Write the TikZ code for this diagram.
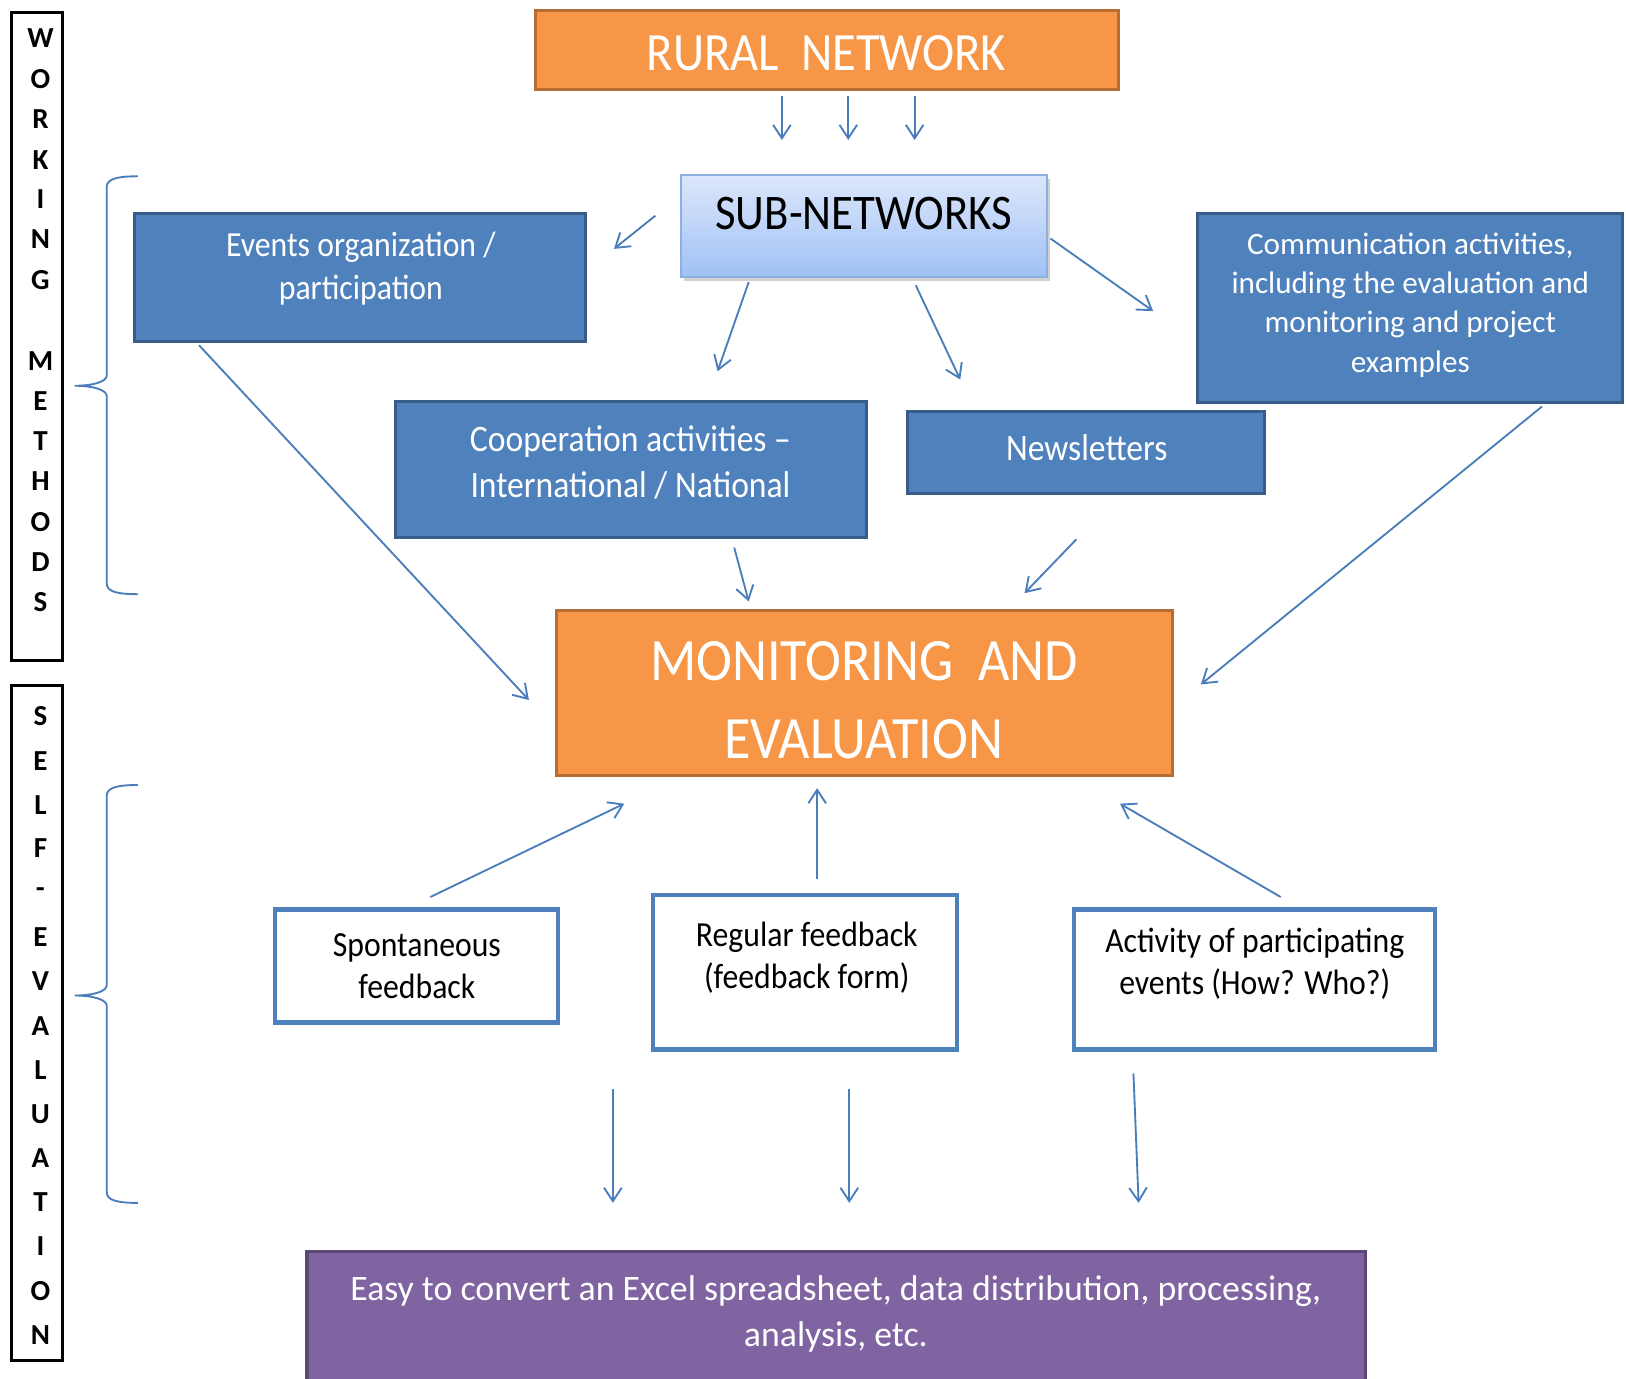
\documentclass[tikz,border=0pt]{standalone}
\usepackage{fontspec}
\setmainfont{Carlito}
\newfontfamily\calN[FakeStretch=0.9]{Carlito}
\usetikzlibrary{arrows.meta,shadows,calc}
\definecolor{org}{HTML}{F79646}
\definecolor{orgD}{HTML}{B66D31}
\definecolor{blu}{HTML}{4F81BD}
\definecolor{bluD}{HTML}{385D8A}
\definecolor{pur}{HTML}{8064A2}
\definecolor{purD}{HTML}{5C4776}
\definecolor{arrC}{HTML}{4A7EBB}
\definecolor{subT}{HTML}{DCE7FB}
\definecolor{subB}{HTML}{A0C1F5}
\definecolor{subD}{HTML}{8DB0E3}
\begin{document}
\begin{tikzpicture}[x=1pt,y=-1pt,
  orangebox/.style={draw=orgD, fill=org, line width=3pt, inner sep=0pt},
  bluebox/.style={draw=bluD, fill=blu, line width=3pt, inner sep=0pt},
  whitebox/.style={draw=blu, fill=white, line width=4pt, inner sep=0pt},
  purplebox/.style={draw=purD, fill=pur, line width=3pt, inner sep=0pt},
  subbox/.style={draw=subD, line width=2pt, top color=subT, bottom color=subB, inner sep=0pt,
     drop shadow={opacity=0.35, shadow xshift=3pt, shadow yshift=-4pt}},
  labbox/.style={draw=black, line width=2.5pt, fill=white, inner sep=0pt},
  wtxt/.style={text=white, align=center, inner sep=0pt},
  btxt/.style={text=black, align=center, inner sep=0pt},
  vl/.style={font=\bfseries\fontsize{28}{30}\selectfont, inner sep=0pt},
  arr/.style={draw=arrC, line width=1.8pt, -{Straight Barb[length=13pt,width=17pt]}},
  brace/.style={draw=arrC, line width=1.8pt}
]
\fill[white] (0,0) rectangle (1568,1329);
\useasboundingbox (0,0) rectangle (1568,1329);

% side label boxes
\node[labbox, minimum width=49pt, minimum height=625pt] (wmbox) at (35.5,324.5) {};
\node[labbox, minimum width=49pt, minimum height=651pt] (sebox) at (35.5,986.5) {};
\foreach \l/\y in {W/37,O/76,R/115,K/154,I/192,N/231,G/270,M/348,E/387,T/425,H/464,O/503,D/542,S/581}
  \node[vl] (w\y) at (39,\y) {\l};
\foreach \l/\y in {S/691,E/734,L/776,F/818,-/861,E/904,V/946,A/989,L/1032,U/1074,A/1117,T/1159,I/1202,O/1245,N/1287}
  \node[vl] (s\y) at (39,\y) {\l};

% braces
\draw[brace] (133,170) .. controls (115,170) and (103,172) .. (103,180) -- (103,362)
  .. controls (103,368) and (90,372) .. (72,372) .. controls (90,372) and (103,376) .. (103,382)
  -- (103,563) .. controls (103,571) and (115,573) .. (133,573);
\draw[brace] (133,757) .. controls (115,757) and (103,759) .. (103,767) -- (103,950)
  .. controls (103,956) and (90,960) .. (72,960) .. controls (90,960) and (103,964) .. (103,970)
  -- (103,1150) .. controls (103,1158) and (115,1160) .. (133,1160);

% boxes
\node[orangebox, minimum width=563pt, minimum height=76pt] (rural) at (797.5,48) {};
\node[wtxt, font=\calN\fontsize{52}{62}\selectfont] (ruralt) at (797,51.5) {RURAL~~NETWORK};

\node[subbox, minimum width=353pt, minimum height=98pt] (sub) at (833.5,218) {};
\node[btxt, font=\calN\fontsize{48}{58}\selectfont] (subt) at (833,206) {SUB-NETWORKS};

\node[bluebox, minimum width=435pt, minimum height=123pt] (ev) at (347.5,267.5) {};
\node[wtxt, font=\calN\fontsize{34}{42}\selectfont] (evt) at (348,259) {Events organization /\\participation};

\node[bluebox, minimum width=410pt, minimum height=182pt] (com) at (1360,297) {};
\node[wtxt, font=\fontsize{30}{38}\selectfont] (comt) at (1360,294) {Communication activities,\\including the evaluation and\\monitoring and project\\examples};

\node[bluebox, minimum width=455pt, minimum height=131pt] (coop) at (608.5,452.5) {};
\node[wtxt, font=\calN\fontsize{36}{44}\selectfont] (coopt) at (608,446) {Cooperation activities –\\International / National};

\node[bluebox, minimum width=344pt, minimum height=79pt] (news) at (1047,436.5) {};
\node[wtxt, font=\calN\fontsize{36}{44}\selectfont] (newst) at (1048,432) {Newsletters};

\node[orangebox, minimum width=594pt, minimum height=159pt] (mon) at (834,668.5) {};
\node[wtxt, font=\calN\fontsize{58}{75}\selectfont] (mont) at (833,675.5) {MONITORING~~AND\\EVALUATION};

\node[whitebox, minimum width=273pt, minimum height=109pt] (sp) at (401.5,931.5) {};
\node[btxt, font=\calN\fontsize{34}{41}\selectfont] (spt) at (402,931.5) {Spontaneous\\feedback};

\node[whitebox, minimum width=293pt, minimum height=149pt] (reg) at (776.5,937.5) {};
\node[btxt, font=\calN\fontsize{34}{41}\selectfont] (regt) at (778,923.5) {Regular feedback\\(feedback form)};

\node[whitebox, minimum width=348pt, minimum height=135pt] (act) at (1210,944.5) {};
\node[btxt, font=\calN\fontsize{34}{41}\selectfont] (actt) at (1210,929.5) {Activity of participating\\events (How? Who?)};

\node[purplebox, minimum width=1021pt, minimum height=140pt] (pur) at (806.5,1277) {};
\node[wtxt, font=\fontsize{34.5}{44}\selectfont] (purt) at (806,1267) {Easy to convert an Excel spreadsheet, data distribution, processing,\\analysis, etc.};

% arrow end points
\coordinate (r1s) at (754,93);  \coordinate (r1e) at (754,135);
\coordinate (r2s) at (818,93);  \coordinate (r2e) at (818,135);
\coordinate (r3s) at (882,93);  \coordinate (r3e) at (882,135);
\coordinate (seS) at (632,208); \coordinate (seE) at (592,240);
\coordinate (scS) at (1013,230); \coordinate (scE) at (1112,300);
\coordinate (soS) at (722,272); \coordinate (soE) at (692,358);
\coordinate (snS) at (883,275); \coordinate (snE) at (926,366);
\coordinate (cmS) at (708,528); \coordinate (cmE) at (722,580);
\coordinate (nmS) at (1038,520); \coordinate (nmE) at (988,572);
\coordinate (emS) at (192,333); \coordinate (emE) at (510,675);
\coordinate (kmS) at (1487,392); \coordinate (kmE) at (1158,660);
\coordinate (pmS) at (415,865); \coordinate (pmE) at (602,775);
\coordinate (gmS) at (788,848); \coordinate (gmE) at (788,760);
\coordinate (amS) at (1235,865); \coordinate (amE) at (1080,775);
\coordinate (d1S) at (591,1050); \coordinate (d1E) at (591,1160);
\coordinate (d2S) at (819,1050); \coordinate (d2E) at (819,1160);
\coordinate (d3S) at (1093,1035); \coordinate (d3E) at (1098,1160);

\draw[arr] (r1s) -- (r1e);
\draw[arr] (r2s) -- (r2e);
\draw[arr] (r3s) -- (r3e);
\draw[arr] (seS) -- (seE);
\draw[arr] (scS) -- (scE);
\draw[arr] (soS) -- (soE);
\draw[arr] (snS) -- (snE);
\draw[arr] (cmS) -- (cmE);
\draw[arr] (nmS) -- (nmE);
\draw[arr] (emS) -- (emE);
\draw[arr] (kmS) -- (kmE);
\draw[arr] (pmS) -- (pmE);
\draw[arr] (gmS) -- (gmE);
\draw[arr] (amS) -- (amE);
\draw[arr] (d1S) -- (d1E);
\draw[arr] (d2S) -- (d2E);
\draw[arr] (d3S) -- (d3E);
\end{tikzpicture}
\end{document}
